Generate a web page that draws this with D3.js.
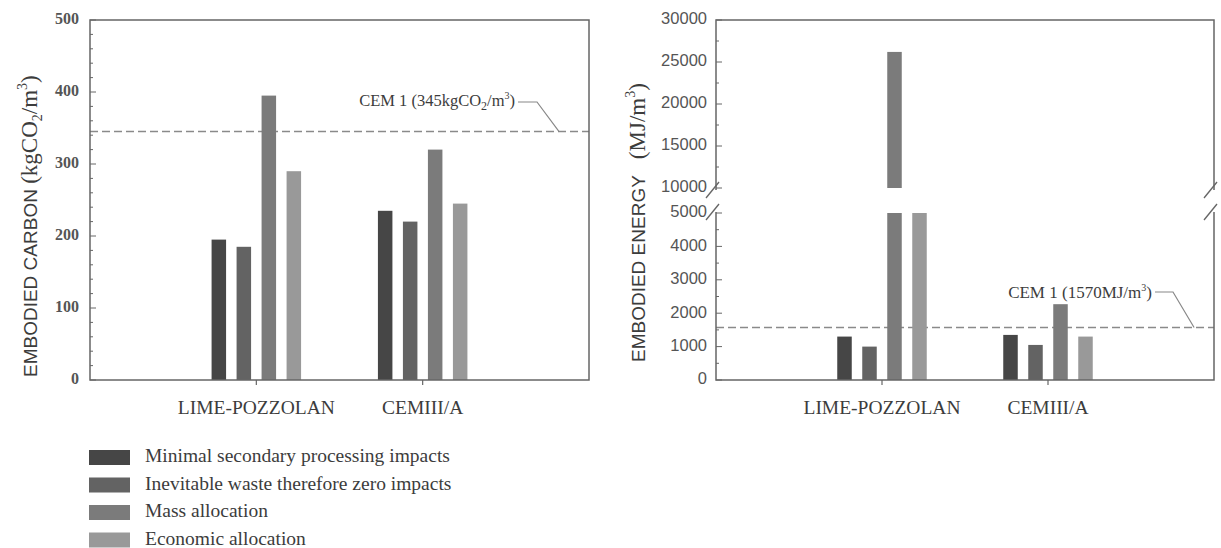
<!DOCTYPE html>
<html>
<head>
<meta charset="utf-8">
<script src="https://cdn.jsdelivr.net/npm/d3@7"></script>
<style>
  body { margin: 0; background: #fff; }
  svg { display: block; }
  .serif { font-family: "Liberation Serif", "Times New Roman", serif; }
  .sans { font-family: "Liberation Sans", Arial, sans-serif; }
</style>
</head>
<body>
<svg id="visualization" width="1221" height="548"></svg>
<script>
const categories = ["LIME-POZZOLAN", "CEMIII/A"];
const series = [
    "Minimal secondary processing impacts",
    "Inevitable waste therefore zero impacts",
    "Mass allocation",
    "Economic allocation"
];
const carbonValues = [
    [195, 185, 395, 290],
    [235, 220, 320, 245]
];
const energyValues = [
    [1300, 1000, 26200, 5000],
    [1350, 1050, 2270, 1300]
];
const carbonRef = 345;
const energyRef = 1570;
const carbonTicks = [0, 100, 200, 300, 400, 500];
const energyLowTicks = [0, 1000, 2000, 3000, 4000, 5000];
const energyHighTicks = [10000, 15000, 20000, 25000, 30000];

const colours = ["#464646", "#636363", "#7b7b7b", "#999999"];
const axisColour = "#666";
const textColour = "#3c3c3c";

const svg = d3.select("#visualization");

// ---------- left: embodied carbon ----------
const left = { x0: 90, x1: 589, y0: 20, y1: 380 };
const cx = d3.scaleLinear().domain([0, 3]).range([left.x0, left.x1]);
const cy = d3.scaleLinear().domain([0, 500]).range([left.y1, left.y0]);
const band = d3.scaleBand().domain(series).range([-50, 50]).paddingInner(0.42).paddingOuter(0.21);

const leftG = svg.append("g");

leftG.append("line").attr("x1", left.x0).attr("x2", left.x1).attr("y1", cy(carbonRef)).attr("y2", cy(carbonRef))
    .attr("stroke", "#8a8a8a").attr("stroke-width", 1.5).attr("stroke-dasharray", "8,4");

categories.forEach((c, ci) => {
    leftG.selectAll(".cbar" + ci)
        .data(carbonValues[ci])
        .join("rect")
        .attr("x", (_, i) => cx(ci + 1) + band(series[i]))
        .attr("width", band.bandwidth())
        .attr("y", d => cy(d))
        .attr("height", d => cy(0) - cy(d))
        .attr("fill", (_, i) => colours[i]);
});

leftG.append("rect").attr("x", left.x0).attr("y", left.y0).attr("width", left.x1 - left.x0).attr("height", left.y1 - left.y0)
    .attr("fill", "none").attr("stroke", axisColour).attr("stroke-width", 1.5);

// minor + major ticks (inside)
leftG.selectAll(".cminor")
    .data(d3.range(0, 501, 20))
    .join("line")
    .attr("x1", left.x0).attr("x2", d => left.x0 + (d % 100 === 0 ? 6 : 3))
    .attr("y1", d => cy(d)).attr("y2", d => cy(d))
    .attr("stroke", axisColour).attr("stroke-width", 1);

leftG.selectAll(".ctick")
    .data(carbonTicks)
    .join("text")
    .attr("class", "serif")
    .attr("x", left.x0 - 11).attr("y", d => cy(d))
    .attr("text-anchor", "end").attr("dominant-baseline", "middle")
    .attr("font-size", 16).attr("font-weight", "bold").attr("fill", "#555")
    .text(d => d);

leftG.selectAll(".cxtick")
    .data(categories)
    .join("line")
    .attr("x1", (_, i) => cx(i + 1)).attr("x2", (_, i) => cx(i + 1))
    .attr("y1", left.y1).attr("y2", left.y1 + 5)
    .attr("stroke", axisColour).attr("stroke-width", 1.2);

leftG.selectAll(".cxlabel")
    .data(categories)
    .join("text")
    .attr("class", "serif")
    .attr("x", (_, i) => cx(i + 1)).attr("y", 414)
    .attr("text-anchor", "middle").attr("font-size", 19.5).attr("fill", textColour)
    .text(d => d);

const cLabel = leftG.append("text")
    .attr("transform", "translate(37,377)rotate(-90)")
    .attr("fill", textColour);
cLabel.append("tspan").attr("class", "sans").attr("font-size", 19).text("EMBODIED CARBON ");
cLabel.append("tspan").attr("class", "serif").attr("font-size", 23).text("(kgCO");
cLabel.append("tspan").attr("class", "serif").attr("font-size", 14).attr("dy", 5).text("2");
cLabel.append("tspan").attr("class", "serif").attr("font-size", 23).attr("dy", -5).text("/m");
cLabel.append("tspan").attr("class", "serif").attr("font-size", 14).attr("dy", -10).text("3");
cLabel.append("tspan").attr("class", "serif").attr("font-size", 23).attr("dy", 10).text(")");

// reference annotation
const cAnn = leftG.append("text").attr("class", "serif")
    .attr("x", 515).attr("y", 106).attr("text-anchor", "end")
    .attr("font-size", 16.5).attr("fill", textColour);
cAnn.append("tspan").text("CEM 1 (345kgCO");
cAnn.append("tspan").attr("font-size", 12).attr("dy", 4).text("2");
cAnn.append("tspan").attr("dy", -4).text("/m");
cAnn.append("tspan").attr("font-size", 10).attr("dy", -7).text("3");
cAnn.append("tspan").attr("dy", 7).text(")");
leftG.append("path")
    .attr("d", `M518,102H537L${cx(2.82)},${cy(carbonRef)}`)
    .attr("fill", "none").attr("stroke", "#888").attr("stroke-width", 1.2);

// ---------- right: embodied energy (broken axis) ----------
const right = { x0: 716, x1: 1214, y0: 20, y1: 380 };
const ex = d3.scaleLinear().domain([0, 3]).range([right.x0, right.x1]);
const eyLow = d3.scaleLinear().domain([0, 5000]).range([right.y1, 213]);
const eyHigh = d3.scaleLinear().domain([10000, 30000]).range([188, right.y0]);

const rightG = svg.append("g");

rightG.append("line").attr("x1", right.x0).attr("x2", right.x1).attr("y1", eyLow(energyRef)).attr("y2", eyLow(energyRef))
    .attr("stroke", "#8a8a8a").attr("stroke-width", 1.5).attr("stroke-dasharray", "8,4");

categories.forEach((c, ci) => {
    const bars = energyValues[ci].map((v, i) => ({ v, i }));
    rightG.selectAll(".ebarLow" + ci)
        .data(bars)
        .join("rect")
        .attr("x", d => ex(ci + 1) + band(series[d.i]))
        .attr("width", band.bandwidth())
        .attr("y", d => eyLow(Math.min(d.v, 5000)))
        .attr("height", d => eyLow(0) - eyLow(Math.min(d.v, 5000)))
        .attr("fill", d => colours[d.i]);
    rightG.selectAll(".ebarHigh" + ci)
        .data(bars.filter(d => d.v > 10000))
        .join("rect")
        .attr("x", d => ex(ci + 1) + band(series[d.i]))
        .attr("width", band.bandwidth())
        .attr("y", d => eyHigh(d.v))
        .attr("height", d => eyHigh(10000) - eyHigh(d.v))
        .attr("fill", d => colours[d.i]);
});

// frame with gaps at the break
const gapTop = 190, gapBottom = 212;
const frame = d3.path();
frame.moveTo(right.x0, gapTop);
frame.lineTo(right.x0, right.y0);
frame.lineTo(right.x1, right.y0);
frame.lineTo(right.x1, gapTop);
frame.moveTo(right.x0, gapBottom);
frame.lineTo(right.x0, right.y1);
frame.lineTo(right.x1, right.y1);
frame.lineTo(right.x1, gapBottom);
rightG.append("path").attr("d", frame.toString())
    .attr("fill", "none").attr("stroke", axisColour).attr("stroke-width", 1.5);

const slashes = [];
[right.x0, right.x1].forEach(x => [gapTop, gapBottom].forEach(y => slashes.push({ x, y })));
rightG.selectAll(".slash")
    .data(slashes)
    .join("line")
    .attr("x1", d => d.x - 10).attr("y1", d => d.y + 8)
    .attr("x2", d => d.x + 3).attr("y2", d => d.y - 8)
    .attr("stroke", axisColour).attr("stroke-width", 1.3);

rightG.selectAll(".eminorLow")
    .data(d3.range(0, 5001, 500))
    .join("line")
    .attr("x1", right.x0).attr("x2", d => right.x0 + (d % 1000 === 0 ? 6 : 3))
    .attr("y1", d => eyLow(d)).attr("y2", d => eyLow(d))
    .attr("stroke", axisColour).attr("stroke-width", 1);
rightG.selectAll(".eminorHigh")
    .data(d3.range(10000, 30001, 2500))
    .join("line")
    .attr("x1", right.x0).attr("x2", d => right.x0 + (d % 5000 === 0 ? 6 : 3))
    .attr("y1", d => eyHigh(d)).attr("y2", d => eyHigh(d))
    .attr("stroke", axisColour).attr("stroke-width", 1);

const eTickData = energyLowTicks.map(v => ({ v, y: eyLow(v) }))
    .concat(energyHighTicks.map(v => ({ v, y: eyHigh(v) })));
rightG.selectAll(".etick")
    .data(eTickData)
    .join("text")
    .attr("class", "sans")
    .attr("x", right.x0 - 9).attr("y", d => d.y)
    .attr("text-anchor", "end").attr("dominant-baseline", "middle")
    .attr("font-size", 16.5).attr("fill", "#555")
    .text(d => d.v);

rightG.selectAll(".extick")
    .data(categories)
    .join("line")
    .attr("x1", (_, i) => ex(i + 1)).attr("x2", (_, i) => ex(i + 1))
    .attr("y1", right.y1).attr("y2", right.y1 + 5)
    .attr("stroke", axisColour).attr("stroke-width", 1.2);

rightG.selectAll(".exlabel")
    .data(categories)
    .join("text")
    .attr("class", "serif")
    .attr("x", (_, i) => ex(i + 1)).attr("y", 414)
    .attr("text-anchor", "middle").attr("font-size", 19.5).attr("fill", textColour)
    .text(d => d);

const eLabel = rightG.append("text")
    .attr("transform", "translate(645,362)rotate(-90)")
    .attr("fill", textColour);
eLabel.append("tspan").attr("class", "sans").attr("font-size", 19).text("EMBODIED ENERGY");
eLabel.append("tspan").attr("class", "serif").attr("font-size", 23).attr("dx", 16).text("(MJ/m");
eLabel.append("tspan").attr("class", "serif").attr("font-size", 14).attr("dy", -10).text("3");
eLabel.append("tspan").attr("class", "serif").attr("font-size", 23).attr("dy", 10).text(")");

const eAnn = rightG.append("text").attr("class", "serif")
    .attr("x", 1152).attr("y", 298).attr("text-anchor", "end")
    .attr("font-size", 17).attr("fill", textColour);
eAnn.append("tspan").text("CEM 1 (1570MJ/m");
eAnn.append("tspan").attr("font-size", 10).attr("dy", -7).text("3");
eAnn.append("tspan").attr("dy", 7).text(")");
rightG.append("path")
    .attr("d", `M1155,292H1173L${ex(2.88)},${eyLow(energyRef)}`)
    .attr("fill", "none").attr("stroke", "#888").attr("stroke-width", 1.2);

// ---------- legend ----------
const legend = svg.append("g").attr("transform", "translate(89,450)");
legend.selectAll(".legend-swatch")
    .data(series)
    .join("rect")
    .attr("x", 0).attr("y", (_, i) => i * 27.5)
    .attr("width", 41).attr("height", 15)
    .attr("fill", (_, i) => colours[i]);
legend.selectAll(".legend-text")
    .data(series)
    .join("text")
    .attr("class", "serif")
    .attr("x", 56).attr("y", (_, i) => i * 27.5 + 8)
    .attr("dominant-baseline", "middle")
    .attr("font-size", 19.5).attr("fill", textColour)
    .text(d => d);
</script>
</body>
</html>
